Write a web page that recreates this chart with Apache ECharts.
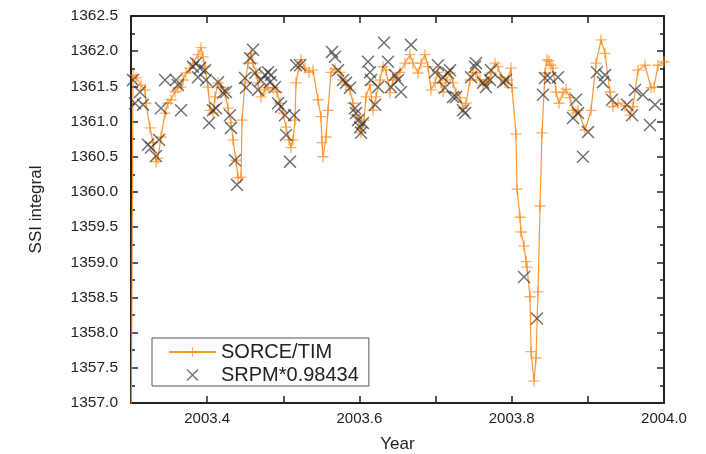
<!DOCTYPE html>
<html><head><meta charset="utf-8">
<script src="https://cdn.jsdelivr.net/npm/echarts@6/dist/echarts.min.js"></script>
<style>html,body{margin:0;padding:0;background:#fff}#c{width:706px;height:454px}</style>
</head><body><div id="c"></div>
<script>
// SORCE/TIM daily SSI integral (year, value)
const timYears = [2003.300,2003.3026,2003.3066,2003.3131,2003.3184,2003.3197,2003.3250,2003.3289,2003.3328,2003.3355,2003.3394,2003.3447,2003.3486,2003.3525,2003.3578,2003.3617,2003.3657,2003.3683,2003.3722,2003.3775,2003.3814,2003.3880,2003.3919,2003.3946,2003.3972,2003.4011,2003.4038,2003.4077,2003.4103,2003.4143,2003.4182,2003.4235,2003.4274,2003.4313,2003.4340,2003.4379,2003.4405,2003.4445,2003.4458,2003.4497,2003.4537,2003.4576,2003.4602,2003.4642,2003.4668,2003.4707,2003.4760,2003.4799,2003.4865,2003.4918,2003.4957,2003.4996,2003.5036,2003.5075,2003.5101,2003.5128,2003.5154,2003.5167,2003.5206,2003.5233,2003.5285,2003.5338,2003.5390,2003.5456,2003.5495,2003.5509,2003.5522,2003.5561,2003.5587,2003.5627,2003.5679,2003.5745,2003.5784,2003.5824,2003.5876,2003.5916,2003.5955,2003.6008,2003.6021,2003.6060,2003.6086,2003.6139,2003.6178,2003.6218,2003.6270,2003.6310,2003.6349,2003.6402,2003.6441,2003.6480,2003.6533,2003.6599,2003.6664,2003.6704,2003.6769,2003.6809,2003.6861,2003.6901,2003.6940,2003.6993,2003.7032,2003.7071,2003.7098,2003.7137,2003.7190,2003.7229,2003.7268,2003.7321,2003.7360,2003.7400,2003.7452,2003.7492,2003.7531,2003.7584,2003.7623,2003.7662,2003.7689,2003.7728,2003.7781,2003.7820,2003.7859,2003.7912,2003.7951,2003.7991,2003.8004,2003.8056,2003.8070,2003.8109,2003.8122,2003.8162,2003.8188,2003.8201,2003.8240,2003.8254,2003.8293,2003.8319,2003.8345,2003.8372,2003.8398,2003.8437,2003.8464,2003.8490,2003.8516,2003.8542,2003.8582,2003.8621,2003.8674,2003.8713,2003.8766,2003.8805,2003.8844,2003.8871,2003.8963,2003.9042,2003.9107,2003.9173,2003.9225,2003.9291,2003.9330,2003.9396,2003.9488,2003.9554,2003.9593,2003.9659,2003.9751,2003.9830,2003.9869,2003.9921,2004.0000];
const timValues = [1356.0,1361.66,1361.62,1361.52,1361.45,1361.26,1360.91,1360.70,1360.43,1360.48,1360.78,1361.12,1361.26,1361.31,1361.42,1361.48,1361.49,1361.59,1361.69,1361.76,1361.83,1361.95,1362.05,1361.92,1361.78,1361.49,1361.16,1361.12,1361.35,1361.55,1361.49,1361.41,1361.19,1360.98,1360.74,1360.45,1360.20,1360.21,1361.02,1361.55,1361.83,1361.97,1361.83,1361.69,1361.55,1361.35,1361.45,1361.48,1361.48,1361.42,1361.26,1361.12,1360.92,1360.74,1360.63,1360.74,1361.02,1361.55,1361.78,1361.88,1361.76,1361.70,1361.73,1361.31,1361.07,1360.70,1360.50,1360.78,1361.16,1361.70,1361.75,1361.70,1361.59,1361.52,1361.45,1361.26,1361.09,1360.92,1360.84,1361.02,1361.35,1361.52,1361.16,1361.35,1361.59,1361.78,1361.73,1361.41,1361.59,1361.63,1361.70,1361.83,1361.95,1361.83,1361.69,1361.83,1361.95,1361.78,1361.45,1361.55,1361.70,1361.55,1361.42,1361.59,1361.69,1361.55,1361.41,1361.34,1361.19,1361.26,1361.59,1361.70,1361.69,1361.59,1361.52,1361.59,1361.55,1361.69,1361.83,1361.78,1361.63,1361.55,1361.59,1361.76,1361.48,1360.82,1360.04,1359.64,1359.43,1359.23,1359.01,1358.93,1358.51,1357.73,1357.31,1357.64,1358.58,1359.80,1360.84,1361.69,1361.88,1361.86,1361.80,1361.76,1361.42,1361.26,1361.41,1361.46,1361.34,1361.16,1361.12,1361.16,1360.88,1361.16,1361.83,1362.16,1361.97,1361.42,1361.21,1361.26,1361.22,1361.09,1361.21,1361.73,1361.80,1361.48,1361.49,1361.80,1361.85];

// SRPM scaled by 0.98434 (year, value)
const srpmYears = [2003.3026,2003.3118,2003.3053,2003.3158,2003.3223,2003.3263,2003.3328,2003.3368,2003.3394,2003.3447,2003.3591,2003.3617,2003.3657,2003.3814,2003.3854,2003.3906,2003.3880,2003.3972,2003.3985,2003.4025,2003.4077,2003.4116,2003.4143,2003.4208,2003.4248,2003.4300,2003.4313,2003.4366,2003.4392,2003.4497,2003.4510,2003.4563,2003.4602,2003.4629,2003.4668,2003.4707,2003.4760,2003.4799,2003.4839,2003.4826,2003.4891,2003.4931,2003.4970,2003.5023,2003.5036,2003.5088,2003.5141,2003.5167,2003.5220,2003.5640,2003.5679,2003.5719,2003.5784,2003.5824,2003.5876,2003.5942,2003.5955,2003.5981,2003.6008,2003.6021,2003.6047,2003.6113,2003.6139,2003.6152,2003.6205,2003.6244,2003.6323,2003.6375,2003.6415,2003.6467,2003.6507,2003.6546,2003.6677,2003.6993,2003.7032,2003.7098,2003.7124,2003.7163,2003.7190,2003.7229,2003.7268,2003.7360,2003.7387,2003.7466,2003.7518,2003.7531,2003.7623,2003.7662,2003.7715,2003.7728,2003.7886,2003.7925,2003.8162,2003.8332,2003.8411,2003.8437,2003.8503,2003.8608,2003.8805,2003.8844,2003.8871,2003.8936,2003.9002,2003.9120,2003.9199,2003.9225,2003.9317,2003.9514,2003.9580,2003.9619,2003.9724,2003.9816,2003.9882];
const srpmValues = [1361.59,1361.42,1361.26,1361.24,1360.67,1360.63,1360.51,1360.74,1361.19,1361.59,1361.59,1361.52,1361.16,1361.78,1361.83,1361.76,1361.63,1361.73,1361.59,1360.98,1361.16,1361.19,1361.56,1361.41,1361.42,1361.09,1360.91,1360.45,1360.10,1361.62,1361.48,1361.90,1362.02,1361.69,1361.45,1361.59,1361.66,1361.70,1361.66,1361.56,1361.49,1361.26,1361.21,1361.09,1360.81,1360.43,1361.09,1361.80,1361.80,1361.99,1361.92,1361.73,1361.59,1361.55,1361.48,1361.19,1361.12,1361.02,1360.92,1360.84,1360.98,1361.85,1361.70,1361.59,1361.24,1361.49,1362.12,1361.85,1361.49,1361.66,1361.59,1361.42,1362.09,1361.70,1361.80,1361.63,1361.48,1361.69,1361.73,1361.35,1361.35,1361.16,1361.12,1361.63,1361.78,1361.83,1361.55,1361.49,1361.59,1361.73,1361.56,1361.59,1358.79,1358.20,1361.38,1361.62,1361.62,1361.63,1361.05,1361.31,1361.12,1360.50,1360.85,1361.70,1361.56,1361.66,1361.31,1361.24,1361.09,1361.45,1361.38,1360.95,1361.24];

const xLabels = ['2003.4','2003.6','2003.8','2004.0'];

const timData = timYears.map((x, i) => [x, timValues[i]]);
const srpmData = srpmYears.map((x, i) => [x, srpmValues[i]]);

const PLUS = 'path://M0,4.4H10V5.6H0Z M4.4,0H5.6V10H4.4Z';
const CROSS = 'path://M0,0.8L0.8,0L10,9.2L9.2,10Z M9.2,0L10,0.8L0.8,10L0,9.2Z';
const FONT = 'Liberation Sans';

const xFmt = v => {
  const s = v.toFixed(1);
  return xLabels.indexOf(s) >= 0 ? s : '';
};

const chart = echarts.init(document.getElementById('c'), null, {renderer: 'canvas'});
chart.setOption({
  animation: false,
  backgroundColor: '#fff',
  grid: {left: 131, right: 42, top: 16, bottom: 51, containLabel: false, outerBoundsMode: 'none'},
  legend: {
    left: 152, top: 338, orient: 'vertical',
    backgroundColor: '#fff', borderColor: '#555', borderWidth: 1,
    padding: [4, 10, 1, 16], itemGap: 3, itemWidth: 47, itemHeight: 12,
    textStyle: {fontFamily: FONT, fontSize: 20, color: '#222'},
    data: [{name: 'SORCE/TIM'}, {name: 'SRPM*0.98434'}]
  },
  xAxis: [{
    type: 'value', min: 2003.3, max: 2004.0, interval: 0.1,
    name: 'Year', nameLocation: 'middle', nameGap: 33,
    nameTextStyle: {fontFamily: FONT, fontSize: 17, color: '#222'},
    axisLine: {lineStyle: {color: '#222', width: 2}},
    axisTick: {inside: true, length: 7, lineStyle: {color: '#222', width: 1.5}},
    axisLabel: {formatter: xFmt, fontFamily: FONT, fontSize: 15, color: '#222', margin: 8, showMinLabel: true, showMaxLabel: true},
    splitLine: {show: false}
  }, {
    type: 'value', position: 'top', min: 2003.3, max: 2004.0, interval: 0.1,
    axisLine: {show: true, lineStyle: {color: '#222', width: 2}},
    axisTick: {inside: true, length: 7, lineStyle: {color: '#222', width: 1.5}},
    axisLabel: {show: false}, splitLine: {show: false}
  }],
  yAxis: [{
    type: 'value', min: 1357, max: 1362.5, interval: 0.5,
    name: 'SSI integral', nameLocation: 'middle', nameGap: 86, nameRotate: 90,
    nameTextStyle: {fontFamily: FONT, fontSize: 17, color: '#222'},
    axisLine: {show: true, lineStyle: {color: '#222', width: 2}},
    axisTick: {inside: true, length: 7, lineStyle: {color: '#222', width: 1.5}},
    minorTick: {show: true, splitNumber: 2, length: 4, lineStyle: {color: '#222', width: 1.5}},
    axisLabel: {formatter: v => v.toFixed(1), fontFamily: FONT, fontSize: 15.5, color: '#222', margin: 13},
    splitLine: {show: false}
  }, {
    type: 'value', position: 'right', min: 1357, max: 1362.5, interval: 0.5,
    axisLine: {show: true, lineStyle: {color: '#222', width: 2}},
    axisTick: {inside: true, length: 7, lineStyle: {color: '#222', width: 1.5}},
    minorTick: {show: true, splitNumber: 2, length: 4, lineStyle: {color: '#222', width: 1.5}},
    axisLabel: {show: false}, splitLine: {show: false}
  }],
  series: [{
    name: 'SORCE/TIM', type: 'line', data: timData, clip: true,
    symbol: PLUS, symbolSize: 11, showSymbol: true, showAllSymbol: true,
    lineStyle: {color: '#ff8a1e', width: 1.2, opacity: 0.9},
    itemStyle: {color: '#ff8a1e', opacity: 0.7},
    z: 2
  }, {
    name: 'SRPM*0.98434', type: 'scatter', data: srpmData,
    symbol: CROSS, symbolSize: 13,
    itemStyle: {color: '#333', opacity: 0.7},
    z: 3
  }]
});
</script></body></html>
